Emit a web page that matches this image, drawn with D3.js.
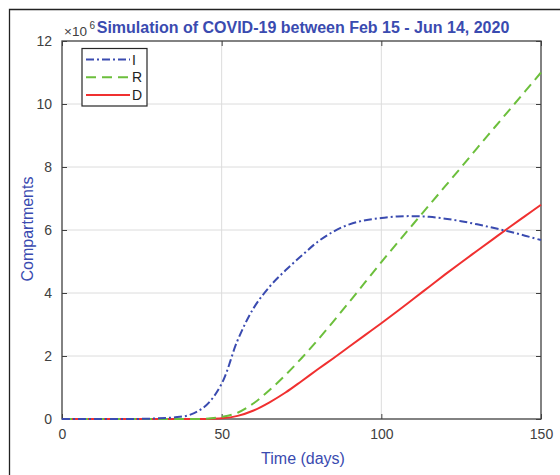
<!DOCTYPE html>
<html><head><meta charset="utf-8">
<script src="https://cdn.jsdelivr.net/npm/d3@7"></script>
<style>body{margin:0;background:#fff}svg{display:block}</style>
</head><body>
<svg id="c" width="560" height="475"></svg>
<script>
const days = [0,5,10,15,20,25,30,35,40,45,50,55,60,65,70,75,80,85,90,95,100,105,110,115,120,125,130,135,140,145,150];
const seriesI = [0,0,0,0,0,0.005,0.02,0.05,0.13,0.42,1.12,2.5,3.52,4.2,4.72,5.18,5.62,5.95,6.18,6.31,6.38,6.43,6.44,6.42,6.36,6.28,6.18,6.07,5.95,5.82,5.68];
const seriesR = [0,0,0,0,0,0,0,0,0,0.01,0.07,0.2,0.5,0.92,1.4,1.93,2.5,3.1,3.72,4.35,4.98,5.59,6.19,6.79,7.39,7.99,8.6,9.2,9.8,10.4,11.0];
const seriesD = [0,0,0,0,0,0,0,0,0,0,0.02,0.1,0.27,0.53,0.84,1.2,1.57,1.93,2.3,2.67,3.04,3.42,3.81,4.2,4.59,4.97,5.34,5.71,6.08,6.44,6.8];
const xTicks = [0,50,100,150];
const yTicks = [0,2,4,6,8,10,12];
const seriesNames = ["I","R","D"];

const svg = d3.select("#c");
const L=62, R=541, T=41, B=419;
const x = d3.scaleLinear().domain([0,150]).range([L,R]);
const y = d3.scaleLinear().domain([0,12]).range([B,T]);
const blue="#3a4bb0", green="#6cbf3c", red="#f03030", txt="#404040";
const FF="Liberation Sans, Arial, sans-serif";

// outer frame
svg.append("path").attr("d","M9.5,475 V9.5 H560").attr("fill","none").attr("stroke","#222").attr("stroke-width",1.3);

// grid
svg.append("g").selectAll("line").data(xTicks.slice(1,-1)).join("line")
  .attr("x1",d=>x(d)).attr("x2",d=>x(d)).attr("y1",T).attr("y2",B)
  .attr("stroke","#dcdcdc").attr("stroke-width",1);
svg.append("g").selectAll("line").data(yTicks.slice(1,-1)).join("line")
  .attr("y1",d=>y(d)).attr("y2",d=>y(d)).attr("x1",L).attr("x2",R)
  .attr("stroke","#dcdcdc").attr("stroke-width",1);

// axes with inward ticks
const ax = (g,axis)=>{g.call(axis); g.select(".domain").remove(); g.selectAll("line").attr("stroke","#404040");
  g.selectAll("text").attr("fill",txt).style("font-family",FF).style("font-size","14px");};
svg.append("g").attr("transform",`translate(0,${B})`).call(g=>ax(g,d3.axisBottom(x).tickValues(xTicks).tickSizeInner(-5).tickSizeOuter(0).tickPadding(10)));
svg.append("g").attr("transform",`translate(0,${T})`).call(g=>ax(g,d3.axisTop(x).tickValues(xTicks).tickSizeInner(-5).tickSizeOuter(0).tickFormat("")));
svg.append("g").attr("transform",`translate(${L},0)`).call(g=>ax(g,d3.axisLeft(y).tickValues(yTicks).tickSizeInner(-5).tickSizeOuter(0).tickPadding(10)));
svg.append("g").attr("transform",`translate(${R},0)`).call(g=>ax(g,d3.axisRight(y).tickValues(yTicks).tickSizeInner(-5).tickSizeOuter(0).tickFormat("")));

// box
svg.append("rect").attr("x",L).attr("y",T).attr("width",R-L).attr("height",B-T)
  .attr("fill","none").attr("stroke","#404040").attr("stroke-width",1.3);

// lines
const line = vals => d3.line().x((d,i)=>x(days[i])).y(d=>y(Math.max(0,d))).curve(d3.curveCatmullRom.alpha(0.5))(vals);
const styles = [
  {vals:seriesI,color:blue,dash:"8,3,2,3"},
  {vals:seriesR,color:green,dash:"10,6"},
  {vals:seriesD,color:red,dash:null}
];
[2,1,0].forEach(k=>{
  const s=styles[k];
  svg.append("path").attr("d",line(s.vals)).attr("fill","none").attr("stroke",s.color)
    .attr("stroke-width",2).attr("stroke-dasharray",s.dash);
});

// legend
const lg = svg.append("g");
lg.append("rect").attr("x",82).attr("y",48.5).attr("width",65).attr("height",57.5)
  .attr("fill","#fff").attr("stroke","#262626").attr("stroke-width",1.2);
seriesNames.forEach((n,i)=>{
  const yy = 59.5 + i*17.8;
  lg.append("line").attr("x1",86).attr("x2",130).attr("y1",yy).attr("y2",yy)
    .attr("stroke",styles[i].color).attr("stroke-width",2).attr("stroke-dasharray",styles[i].dash);
  lg.append("text").attr("x",132).attr("y",yy+5).text(n).attr("fill","#222")
    .style("font-family",FF).style("font-size","14px");
});

// exponent
svg.append("text").attr("x",64).attr("y",36).attr("fill",txt)
  .style("font-family",FF).style("font-size","13.5px").text("×10");
svg.append("text").attr("x",89.5).attr("y",29).attr("fill",txt)
  .style("font-family",FF).style("font-size","10px").text("6");

// title
svg.append("text").attr("x",303).attr("y",33).attr("text-anchor","middle").attr("fill",blue)
  .style("font-family",FF).style("font-size","16px").style("font-weight","bold")
  .text("Simulation of COVID-19 between Feb 15 - Jun 14, 2020");

// axis labels
svg.append("text").attr("x",303).attr("y",464).attr("text-anchor","middle").attr("fill",blue)
  .style("font-family",FF).style("font-size","16px").text("Time (days)");
svg.append("text").attr("transform","translate(33,229) rotate(-90)").attr("text-anchor","middle").attr("fill",blue)
  .style("font-family",FF).style("font-size","16px").text("Compartments");
</script>
</body></html>
